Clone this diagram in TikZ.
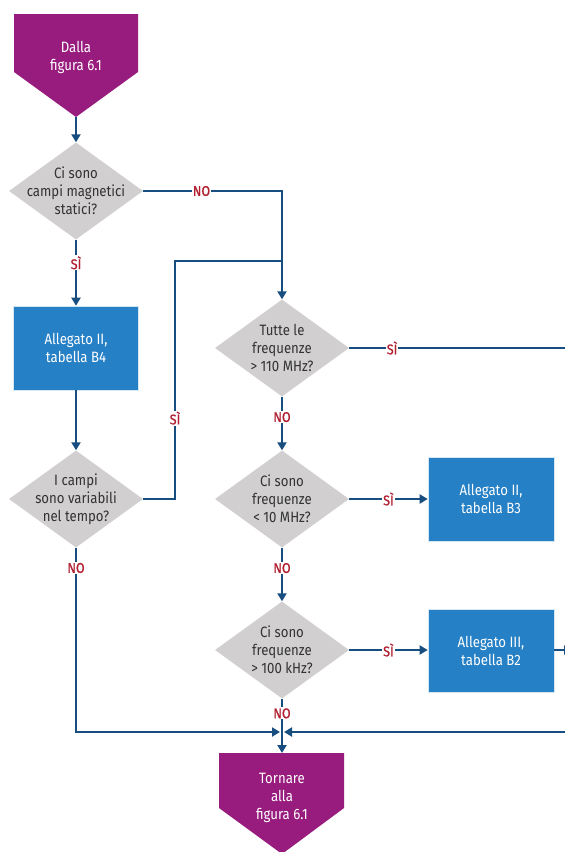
\documentclass[tikz,border=0pt]{standalone}
\usepackage{fontspec}
\setmainfont{Fira Sans}[FakeStretch=0.88]
\newfontfamily\lblfont{Fira Sans}[FakeStretch=0.9, FakeBold=1]
\usetikzlibrary{arrows.meta,shapes.geometric}

\definecolor{flowpurple}{HTML}{981B7E}
\definecolor{flowblue}{HTML}{2580C5}
\definecolor{flowgray}{HTML}{D1CFCF}
\definecolor{flowline}{HTML}{174E7F}
\definecolor{flowred}{HTML}{B11F31}
\definecolor{flowtext}{HTML}{333333}

\tikzset{
  decision/.style={diamond, fill=flowgray, inner sep=0pt,
    minimum width=134pt, minimum height=97pt},
  dtext/.style={align=center, text=flowtext, font=\fontsize{15}{18}\selectfont},
  annexbox/.style={rectangle, fill=flowblue, draw=white!80!flowblue, line width=0.6pt,
    inner sep=0pt, text=white, align=center,
    font=\fontsize{15}{18}\selectfont},
  terminal/.style={fill=flowpurple},
  ttext/.style={align=center, text=white, font=\fontsize{15}{18}\selectfont},
  conn/.style={draw=flowline, line width=2pt},
  arr/.style={conn, -{Triangle[length=8pt,width=9pt]}},
  lbl/.style={fill=white, text=flowred, inner sep=1pt,
    font=\lblfont\fontsize{14}{15}\selectfont},
}

\begin{document}
\begin{tikzpicture}[x=1pt, y=-1pt]
\clip (0,0) rectangle (565,852);
\fill[white] (0,0) rectangle (565,852);

% start terminal
\fill[terminal] (14,14) -- (138,14) -- (138,72) -- (76,117) -- (14,72) -- cycle;
\coordinate (start) at (76,117);
\node[ttext] (starttext) at (76,57) {Dalla\\figura 6.1};

% decisions
\node[decision] (d1) at (76,191) {};
\node[dtext] at (d1) {Ci sono\\campi magnetici\\statici?};
\node[decision] (d2) at (76,499) {};
\node[dtext] at (d2) {I campi\\sono variabili\\nel tempo?};
\node[decision] (t1) at (282,348) {};
\node[dtext] at (t1) {Tutte le\\frequenze\\> 110 MHz?};
\node[decision] (t2) at (282,499) {};
\node[dtext] at (t2) {Ci sono\\frequenze\\< 10 MHz?};
\node[decision] (t3) at (282,650) {};
\node[dtext] at (t3) {Ci sono\\frequenze\\> 100 kHz?};

% annex boxes
\node[annexbox, minimum width=125pt, minimum height=84pt] (b4) at (76,348) {Allegato II,\\tabella B4};
\node[annexbox, minimum width=126pt, minimum height=84pt] (b3) at (491,499) {Allegato II,\\tabella B3};
\node[annexbox, minimum width=126pt, minimum height=83pt] (b2) at (491,651) {Allegato III,\\tabella B2};

% end terminal
\fill[terminal] (219,753) -- (344,753) -- (344,808) -- (282,854) -- (219,808) -- cycle;
\coordinate (endtop) at (282,753);
\node[ttext] (endtext) at (282,798) {Tornare\\alla\\figura 6.1};

% routing points
\coordinate (c1) at (282,191);
\coordinate (c2) at (175,499);
\coordinate (c3) at (175,261);
\coordinate (c4) at (282,261);
\coordinate (c5) at (76,732);
\coordinate (join) at (282,732);
\coordinate (rightin) at (575,732);
\coordinate (rightout1) at (575,348);
\coordinate (rightout2) at (572,650);

% connectors
\draw[arr] (start) -- (d1.north);
\draw[arr] (d1.east) -- node[lbl, pos=0.42] {NO} (c1) -- (t1.north);
\draw[arr] (d1.south) -- node[lbl, pos=0.35] {SÌ} (b4.north);
\draw[arr] (b4.south) -- (d2.north);
\draw[conn] (d2.east) -- (c2) -- node[lbl, pos=0.34] {SÌ} (c3) -- (c4);
\draw[arr, shorten >=2pt] (d2.south) -- node[lbl, pos=0.11] {NO} (c5) -- (join);
\draw[conn] (t1.east) -- node[lbl, pos=0.19] {SÌ} (rightout1);
\draw[arr] (t1.south) -- node[lbl, pos=0.38] {NO} (t2.north);
\draw[arr] (t2.east) -- node[lbl, pos=0.5] {SÌ} (b3.west);
\draw[arr] (t2.south) -- node[lbl, pos=0.38] {NO} (t3.north);
\draw[arr] (t3.east) -- node[lbl, pos=0.5] {SÌ} (t3.east -| b2.west);
\draw[arr] (b2.east |- t3.east) -- (rightout2);
\draw[arr, shorten >=2pt] (rightin) -- (join);
\draw[arr] (t3.south) -- node[lbl, pos=0.27] {NO} (endtop);
\end{tikzpicture}
\end{document}
